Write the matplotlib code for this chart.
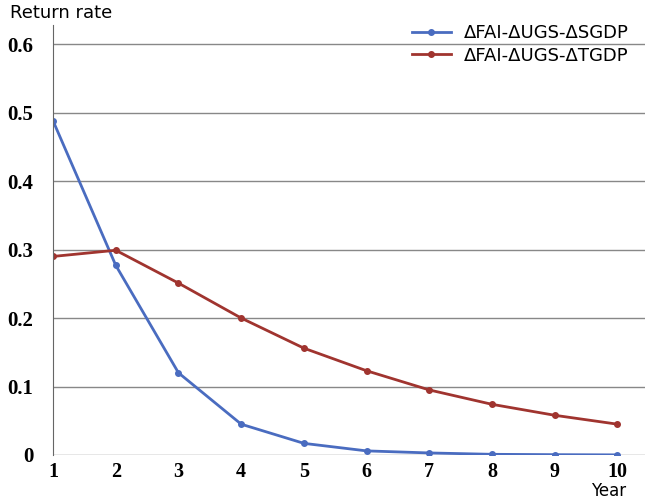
import matplotlib.pyplot as plt

# Дані
years = [1, 2, 3, 4, 5, 6, 7, 8, 9, 10]
sgdp = [0.488, 0.277, 0.120, 0.045, 0.017, 0.006, 0.003, 0.001, 0.0005, 0.0002]
tgdp = [0.290, 0.299, 0.251, 0.200, 0.156, 0.123, 0.095, 0.074, 0.058, 0.045]
yticks = [0, 0.1, 0.2, 0.3, 0.4, 0.5, 0.6]
ytick_labels = ['0', '0.1', '0.2', '0.3', '0.4', '0.5', '0.6']

fig = plt.figure(figsize=(6.47, 5), dpi=100)
ax = fig.add_axes([0.082, 0.09, 0.915, 0.86])

ax.plot(years, sgdp, color='#4a6cc0', lw=2, marker='o', ms=4, label='ΔFAI-ΔUGS-ΔSGDP')
ax.plot(years, tgdp, color='#a0342f', lw=2, marker='o', ms=4, label='ΔFAI-ΔUGS-ΔTGDP')

ax.set_xlim(1, 10.44)
ax.set_ylim(0, 0.628)
ax.set_yticks(yticks)
ax.set_yticklabels(ytick_labels)
ax.set_xticks(years)
ax.yaxis.grid(True, color='#888888', lw=1)
ax.set_axisbelow(True)

for s in ['top', 'right', 'bottom']:
    ax.spines[s].set_visible(False)
ax.spines['left'].set_color('#666666')
ax.tick_params(length=0)
for lab in ax.get_yticklabels():
    lab.set_fontfamily('Liberation Serif')
    lab.set_fontweight('bold')
    lab.set_fontsize(15)
for lab in ax.get_xticklabels():
    lab.set_fontfamily('Liberation Serif')
    lab.set_fontweight('bold')
    lab.set_fontsize(14.5)
ax.tick_params(axis='y', pad=14)
ax.tick_params(axis='x', pad=5)

fig.text(0.015, 0.955, 'Return rate', fontsize=13, ha='left', va='bottom')
fig.text(0.94, 0.008, 'Year', fontsize=12, ha='center', va='baseline')

ax.legend(loc='upper right', bbox_to_anchor=(1.0, 1.04), frameon=False, fontsize=13,
          handlelength=2.2, handletextpad=0.7, labelspacing=0.25)

plt.savefig('out.png')
